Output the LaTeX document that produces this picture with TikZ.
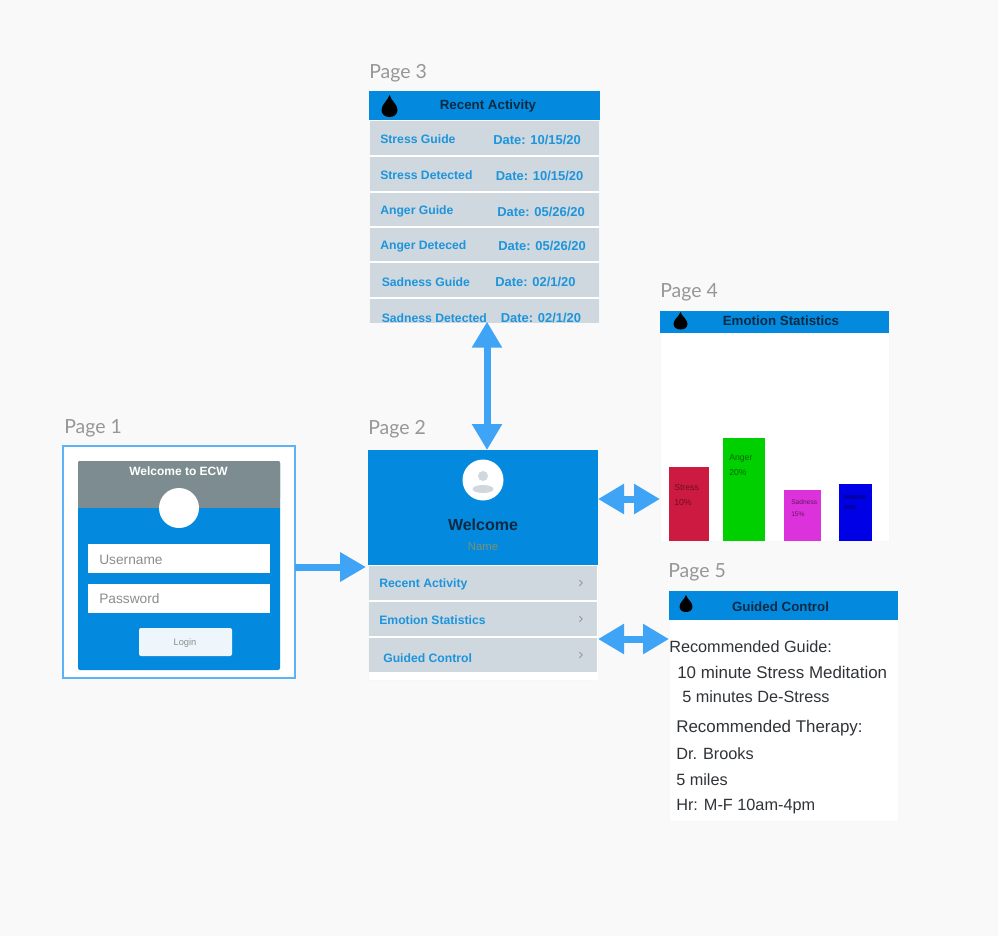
\documentclass[tikz,border=0pt]{standalone}
\usepackage{fontspec}
\setmainfont{Liberation Sans}
\newfontfamily\labelfont{Lato}
\usetikzlibrary{arrows.meta}
\definecolor{bg}{HTML}{F9F9F9}
\definecolor{uiblue}{HTML}{038ADE}
\definecolor{rowgray}{HTML}{CFD7DF}
\definecolor{rowtext}{HTML}{1C95DC}
\definecolor{arrowblue}{HTML}{3FA4F6}
\definecolor{framegray}{HTML}{7C8C90}
\definecolor{hdrtext}{HTML}{0B2A44}
\definecolor{bodytext}{HTML}{303438}
\definecolor{pagegray}{HTML}{979797}
\definecolor{barred}{HTML}{CC1A40}
\definecolor{bargreen}{HTML}{00D000}
\definecolor{barmag}{HTML}{DC32DC}
\definecolor{barblue}{HTML}{0000E6}
\definecolor{loginbg}{HTML}{EEF6FC}
\definecolor{namecol}{HTML}{7C9070}
\tikzset{
  x=0.75pt,y=-0.75pt,
  panel/.style={draw=black!3,line width=0.75pt,fill=white,inner sep=0pt,outer sep=0pt,anchor=north west},
  pagelabel/.style={font=\labelfont\fontsize{14.6pt}{18pt}\selectfont,text=pagegray,anchor=west,inner sep=0pt,yshift=-1.5pt},
  rowlabel/.style={font=\bfseries\fontsize{9.15pt}{11pt}\selectfont,text=rowtext,anchor=west,inner sep=0pt,yshift=-0.75pt},
  datelabel/.style={rowlabel,font=\bfseries\fontsize{9.7pt}{11pt}\selectfont},
  hdrlabel/.style={font=\bfseries\fontsize{10pt}{12pt}\selectfont,text=hdrtext,anchor=center,inner sep=0pt,yshift=-0.9pt},
  bodylabel/.style={font=\fontsize{12.2pt}{14pt}\selectfont,text=bodytext,anchor=west,inner sep=0pt,yshift=-0.75pt},
  widebody/.style={bodylabel,font=\fontsize{12.7pt}{14pt}\selectfont},
  barlabel/.style={font=\fontsize{6.5pt}{8pt}\selectfont,anchor=west,inner sep=0pt,yshift=-0.5pt},
  tinylabel/.style={font=\fontsize{5pt}{6pt}\selectfont,anchor=west,inner sep=0pt},
  fieldlabel/.style={font=\fontsize{10.3pt}{12pt}\selectfont,text=black!45,anchor=west,inner sep=0pt,yshift=-0.75pt},
  link/.style={draw=arrowblue,line width=5.25pt},
  onehead/.style={link,shorten >=1.5pt,-{Triangle[length=19.5pt,width=21pt]}},
  twohead/.style={link,{Triangle[length=19.5pt,width=21.5pt]}-{Triangle[length=19.5pt,width=21.5pt]}},
}
\newcommand{\dropicon}[4]{%
  \begin{scope}[shift={(#1,#2)},xscale=#3,yscale=#4]
    \fill[black] (0,0) .. controls (0.12,0.28) and (0.5,0.42) .. (0.5,0.68)
      .. controls (0.5,0.88) and (0.28,1) .. (0,1)
      .. controls (-0.28,1) and (-0.5,0.88) .. (-0.5,0.68)
      .. controls (-0.5,0.42) and (-0.12,0.28) .. (0,0) -- cycle;
  \end{scope}}
\newcommand{\chev}[2]{\draw[black!40,line width=0.7pt] (#1,#2-2.8) -- (#1+2.6,#2) -- (#1,#2+2.8);}
\begin{document}
\begin{tikzpicture}
\useasboundingbox (0,0) rectangle (998,936);
\fill[bg] (0,0) rectangle (998,936);

% Page labels
\node[pagelabel] (l1) at (64,426) {Page 1};
\node[pagelabel] (l2) at (368,427.5) {Page 2};
\node[pagelabel] (l3) at (369,71) {Page 3};
\node[pagelabel] (l4) at (660,290) {Page 4};
\node[pagelabel] (l5) at (668,570) {Page 5};

% Page 1
\node[panel,draw=arrowblue!85,line width=1pt,minimum width=174pt,minimum height=174pt] (p1) at (63,446) {};
\fill[uiblue,rounded corners=1.5pt] (78,461) rectangle (280,670);
\fill[framegray,rounded corners=1.5pt] (78,461) rectangle (280,500);
\fill[framegray] (78,480) rectangle (280,508);
\node[font=\bfseries\fontsize{9pt}{11pt}\selectfont,text=white,inner sep=0pt,yshift=-0.5pt] (t1) at (178.5,471) {Welcome to ECW};
\fill[white] (179,508) circle[radius=20];
\fill[white] (88,544) rectangle (270,573);
\fill[white] (88,584) rectangle (270,612.5);
\node[fieldlabel] (user) at (99,559) {Username};
\node[fieldlabel] (pass) at (99,597.5) {Password};
\fill[loginbg,rounded corners=1.5pt] (139,628) rectangle (232,656);
\node[font=\fontsize{7pt}{9pt}\selectfont,text=black!45,inner sep=0pt,yshift=-0.75pt] (login) at (185,642) {Login};

% Page 2
\node[panel,minimum width=172.5pt,minimum height=172.5pt] (p2) at (368,450) {};
\fill[uiblue] (368,450) rectangle (598,565);
\fill[white] (483,480) circle[radius=20.5];
\fill[rowgray] (483,476) circle[radius=5];
\fill[rowgray] (483,489) ellipse[x radius=10.5,y radius=4];
\node[font=\bfseries\fontsize{12pt}{14pt}\selectfont,text=hdrtext,inner sep=0pt] (wel) at (483,525) {Welcome};
\node[font=\fontsize{8.5pt}{10pt}\selectfont,text=namecol,inner sep=0pt] (nm) at (483,547) {Name};
\fill[rowgray] (369,566) rectangle (597,600);
\fill[rowgray] (369,602) rectangle (597,636);
\fill[rowgray] (369,638) rectangle (597,672);
\node[rowlabel] (r1) at (379,583.5) {Recent Activity};
\node[rowlabel] (r2) at (379,619.5) {Emotion Statistics};
\node[rowlabel] (r3) at (383,657.5) {Guided Control};
\chev{579.5}{583}
\chev{579.5}{619}
\chev{579.5}{655}

% Page 3
\node[panel,minimum width=173pt,minimum height=173pt] (p3) at (369,91) {};
\fill[uiblue] (369,91) rectangle (600,120);
\dropicon{389.5}{95}{16}{22}
\node[hdrlabel] (h3) at (488,105) {Recent Activity};
\begin{scope}
\clip (369,91) rectangle (600,322);
\fill[rowgray] (370,121) rectangle (599,155);
\fill[rowgray] (370,157) rectangle (599,191);
\fill[rowgray] (370,193) rectangle (599,226);
\fill[rowgray] (370,228) rectangle (599,261);
\fill[rowgray] (370,263) rectangle (599,297);
\fill[rowgray] (370,299) rectangle (599,335);
\node[rowlabel] (a1) at (380,138.5) {Stress Guide};
\node[datelabel] (b1) at (493,138.5) {Date: 10/15/20};
\node[rowlabel] (a2) at (380,174.5) {Stress Detected};
\node[datelabel] (b2) at (495.5,174.5) {Date: 10/15/20};
\node[rowlabel] (a3) at (380,210.5) {Anger Guide};
\node[datelabel] (b3) at (497,210.5) {Date: 05/26/20};
\node[rowlabel] (a4) at (380,245) {Anger Deteced};
\node[datelabel] (b4) at (498,245) {Date: 05/26/20};
\node[rowlabel] (a5) at (381.5,281) {Sadness Guide};
\node[datelabel] (b5) at (495,281) {Date: 02/1/20};
\node[rowlabel] (a6) at (381.5,317) {Sadness Detected};
\node[datelabel] (b6) at (500.5,317) {Date: 02/1/20};
\end{scope}

% Page 4
\node[panel,minimum width=172pt,minimum height=172.5pt] (p4) at (660,311) {};
\fill[uiblue] (660,311) rectangle (889,333);
\dropicon{680.5}{312}{14}{17.5}
\node[hdrlabel] (h4) at (781,320) {Emotion Statistics};
\fill[barred] (669,467) rectangle (709,541);
\fill[bargreen] (723,438) rectangle (765,541);
\fill[barmag] (784,490) rectangle (821,541);
\fill[barblue] (839,484) rectangle (872,541);
\node[barlabel,text=barred!55!black] (s1) at (674,487) {Stress};
\node[barlabel,text=barred!55!black] (s2) at (674,501.5) {10\%};
\node[barlabel,text=bargreen!50!black] (g1) at (729,457.5) {Anger};
\node[barlabel,text=bargreen!50!black] (g2) at (729,471.5) {20\%};
\node[tinylabel,text=barmag!45!black] (m1) at (791,502) {Sadness};
\node[tinylabel,text=barmag!45!black] (m2) at (791,514) {15\%};
\fill[barblue!75!black] (844,495) rectangle (866,499);
\fill[barblue!75!black] (844,505) rectangle (856,509);

% Page 5
\node[panel,minimum width=172pt,minimum height=173pt] (p5) at (669,591) {};
\fill[uiblue] (669,591) rectangle (898,620);
\dropicon{686}{595}{13}{17}
\node[hdrlabel] (h5) at (780.5,606) {Guided Control};
\node[bodylabel] (c1) at (669,646) {Recommended Guide:};
\node[widebody] (c2) at (677,671) {10 minute Stress Meditation};
\node[bodylabel] (c3) at (682,695.5) {5 minutes De-Stress};
\node[widebody] (c4) at (676,727) {Recommended Therapy:};
\node[bodylabel] (c5) at (676,752.5) {Dr. Brooks};
\node[bodylabel] (c6) at (676,778.5) {5 miles};
\node[bodylabel] (c7) at (676,805) {Hr: M-F 10am-4pm};

% Connectors
\draw[onehead] (p1.east |- 0,567) -- (p2.west |- 0,567);
\draw[twohead] (p3.south -| 487,0) -- (p2.north -| 487,0);
\draw[twohead] (p2.east |- 0,499) -- (p4.west |- 0,499);
\draw[twohead] (p2.east |- 0,639) -- (p5.west |- 0,639);
\end{tikzpicture}
\end{document}
